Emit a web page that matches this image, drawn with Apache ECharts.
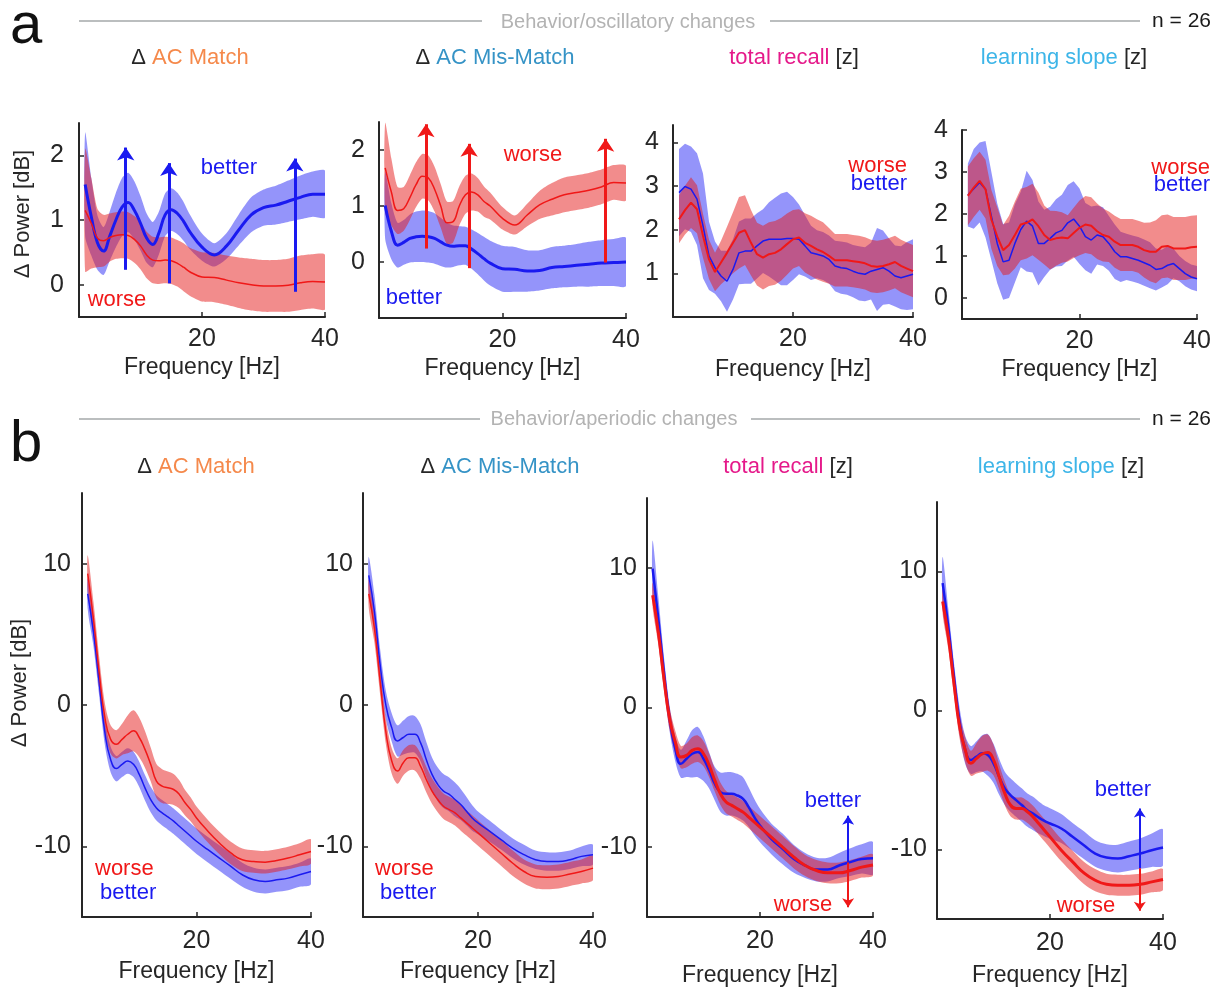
<!DOCTYPE html>
<html>
<head>
<meta charset="utf-8">
<script src="https://cdn.jsdelivr.net/npm/echarts@6/dist/echarts.min.js"></script>
<style>
  html, body { margin: 0; padding: 0; background: #ffffff; }
  #chart { width: 1222px; height: 988px; }
</style>
</head>
<body>
<div id="chart"></div>
<script>
// ---------------- data ----------------
// frequency grids (Hz)
const FREQ_A = [1,2,3,4,5,6,7,8,9,10,11,12,13,14,15,16,17,18,20,22,24,26,28,30,32,34,36,38,40];
const FREQ_Z = [1,2,3,4,5,6,7,8,9,10,11,12,13,14,15,16,17,18,19,20,21,22,23,24,25,26,27,28,29,30,31,32,33,34,35,36,37,38,39,40];
const FREQ_B = [1,2,3,4,5,6,7,8,9,10,11,12,13,14,15,16,17,18,19,20,22,24,26,28,30,32,34,36,38,40];

// a: oscillatory power change, group means and shaded error
const A1_BETTER     = [1.55,1.05,0.65,0.52,0.75,1.0,1.2,1.27,1.15,0.95,0.72,0.62,0.8,1.08,1.16,1.1,0.98,0.82,0.58,0.46,0.6,0.85,1.08,1.19,1.23,1.29,1.35,1.4,1.4];
const A1_BETTER_SEM = [0.8,0.6,0.42,0.37,0.38,0.42,0.45,0.46,0.45,0.42,0.38,0.35,0.33,0.33,0.33,0.32,0.3,0.27,0.21,0.18,0.2,0.24,0.27,0.28,0.3,0.32,0.34,0.35,0.36];
const A1_WORSE      = [1.15,0.95,0.72,0.68,0.73,0.76,0.77,0.76,0.7,0.6,0.46,0.38,0.37,0.38,0.37,0.33,0.27,0.2,0.12,0.11,0.07,0.03,0.0,-0.02,-0.02,-0.01,0.03,0.05,0.04];
const A1_WORSE_SEM  = [0.95,0.7,0.45,0.4,0.37,0.36,0.36,0.36,0.36,0.36,0.36,0.36,0.36,0.36,0.36,0.36,0.37,0.37,0.38,0.38,0.38,0.39,0.4,0.4,0.4,0.41,0.42,0.42,0.42];

const A2_WORSE      = [1.68,1.25,0.92,0.95,1.15,1.38,1.53,1.5,1.3,1.0,0.7,0.72,1.0,1.2,1.25,1.2,1.08,1.0,0.78,0.66,0.84,1.02,1.12,1.2,1.24,1.28,1.34,1.42,1.41];
const A2_WORSE_SEM  = [0.8,0.6,0.42,0.39,0.4,0.4,0.4,0.4,0.4,0.39,0.38,0.37,0.35,0.34,0.33,0.3,0.27,0.24,0.2,0.17,0.2,0.25,0.29,0.31,0.31,0.31,0.31,0.31,0.31];
const A2_BETTER     = [1.01,0.55,0.3,0.35,0.42,0.45,0.46,0.45,0.42,0.36,0.3,0.28,0.29,0.29,0.23,0.15,0.06,-0.02,-0.12,-0.13,-0.16,-0.15,-0.1,-0.08,-0.06,-0.04,-0.02,-0.01,0.0];
const A2_BETTER_SEM = [0.6,0.5,0.4,0.4,0.43,0.45,0.46,0.46,0.45,0.43,0.4,0.37,0.35,0.34,0.35,0.37,0.39,0.4,0.41,0.4,0.37,0.36,0.37,0.37,0.38,0.4,0.41,0.42,0.43];

const A3_WORSE      = [2.24,2.45,2.62,2.47,1.86,1.32,1.03,1.25,1.47,1.7,1.93,1.99,1.7,1.44,1.36,1.44,1.47,1.55,1.67,1.78,1.82,1.7,1.63,1.55,1.49,1.4,1.3,1.3,1.3,1.28,1.26,1.23,1.17,1.15,1.17,1.21,1.26,1.17,1.11,1.05];
const A3_WORSE_SEM  = [0.55,0.56,0.58,0.55,0.5,0.45,0.44,0.5,0.6,0.7,0.82,0.8,0.75,0.72,0.73,0.73,0.73,0.72,0.7,0.67,0.65,0.68,0.69,0.69,0.68,0.64,0.6,0.6,0.6,0.6,0.6,0.6,0.6,0.6,0.6,0.6,0.6,0.6,0.6,0.6];
const A3_BETTER     = [2.85,2.99,2.93,2.7,2.09,1.4,1.13,0.94,0.82,1.09,1.47,1.51,1.51,1.63,1.74,1.78,1.78,1.78,1.8,1.8,1.78,1.63,1.47,1.44,1.4,1.32,1.17,1.13,1.11,1.05,1.0,0.98,1.05,1.09,1.13,1.05,0.94,0.9,0.94,0.98];
const A3_BETTER_SEM = [1.0,0.98,0.98,1.05,1.2,0.78,0.6,0.58,0.7,0.69,0.72,0.75,0.75,0.75,0.73,0.85,0.95,1.05,1.07,0.95,0.8,0.7,0.62,0.55,0.55,0.55,0.58,0.6,0.6,0.6,0.62,0.62,0.65,0.95,0.85,0.75,0.7,0.72,0.78,0.8];

const A4_WORSE      = [2.43,2.63,2.79,2.59,1.87,1.46,1.14,1.26,1.5,1.75,1.79,1.87,1.71,1.5,1.38,1.42,1.44,1.42,1.55,1.67,1.75,1.72,1.59,1.5,1.46,1.34,1.26,1.26,1.26,1.22,1.14,1.1,1.1,1.22,1.24,1.18,1.18,1.18,1.21,1.22];
const A4_WORSE_SEM  = [0.7,0.7,0.69,0.7,0.7,0.7,0.6,0.7,0.8,0.85,0.85,0.85,0.8,0.7,0.7,0.65,0.6,0.55,0.6,0.65,0.68,0.68,0.66,0.63,0.6,0.62,0.62,0.62,0.62,0.62,0.65,0.7,0.75,0.75,0.75,0.75,0.75,0.75,0.75,0.75];
const A4_BETTER     = [2.45,2.6,2.75,2.59,1.95,1.3,0.86,0.9,1.3,1.63,1.83,1.71,1.3,1.3,1.42,1.55,1.61,1.79,1.88,1.71,1.46,1.38,1.5,1.46,1.3,1.1,0.98,0.98,0.94,0.9,0.84,0.78,0.68,0.7,0.78,0.82,0.7,0.58,0.5,0.46];
const A4_BETTER_SEM = [0.75,0.95,0.95,1.15,1.05,0.95,0.9,0.9,0.93,0.9,1.2,1.1,1.0,0.8,0.75,0.8,0.85,0.9,0.9,0.9,0.8,0.8,0.7,0.7,0.65,0.65,0.6,0.55,0.55,0.55,0.55,0.55,0.5,0.45,0.45,0.35,0.3,0.3,0.3,0.3];

// b: aperiodic power change
const B1_WORSE      = [9.29,6.1,2.3,-0.89,-2.43,-2.78,-2.43,-2.07,-1.83,-2.3,-3.14,-4.2,-5.38,-5.74,-5.86,-5.98,-6.33,-6.92,-7.4,-7.99,-8.93,-9.76,-10.47,-10.95,-11.07,-11.12,-11.0,-10.83,-10.6,-10.36];
const B1_WORSE_SEM  = [1.3,1.2,1.1,1.0,1.0,1.0,1.1,1.35,1.45,1.4,1.3,1.2,1.2,1.2,1.15,1.1,1.0,0.9,0.85,0.8,0.8,0.8,0.8,0.8,0.8,0.8,0.8,0.8,0.82,0.85];
const B1_BETTER     = [7.87,5.15,1.6,-1.95,-3.85,-4.5,-4.2,-3.96,-4.2,-4.91,-5.86,-6.69,-7.28,-7.63,-7.92,-8.22,-8.58,-8.93,-9.29,-9.64,-10.24,-10.83,-11.42,-12.01,-12.37,-12.49,-12.37,-12.25,-12.01,-11.78];
const B1_BETTER_SEM = [1.1,1.0,0.95,0.9,0.9,0.9,0.9,0.9,0.9,0.9,0.9,0.9,0.9,0.9,0.9,0.9,0.9,0.9,0.9,0.9,0.9,0.9,0.9,0.85,0.85,0.85,0.85,0.85,0.85,0.9];

const B2_BETTER     = [9.17,6.57,2.78,-0.06,-1.6,-2.54,-2.3,-2.07,-2.07,-2.66,-3.85,-4.91,-5.62,-6.09,-6.33,-6.69,-7.04,-7.51,-7.99,-8.34,-8.93,-9.53,-10.12,-10.59,-10.95,-11.07,-11.07,-10.95,-10.71,-10.59];
const B2_BETTER_SEM = [1.3,1.2,1.1,1.0,1.0,1.1,1.2,1.3,1.3,1.3,1.25,1.2,1.2,1.2,1.2,1.2,1.1,1.0,0.9,0.8,0.75,0.7,0.7,0.7,0.65,0.65,0.65,0.65,0.7,0.7];
const B2_WORSE      = [7.87,5.38,1.6,-1.95,-3.96,-4.67,-4.08,-3.73,-3.73,-4.32,-5.27,-6.09,-6.69,-7.16,-7.4,-7.63,-7.99,-8.34,-8.7,-9.05,-9.76,-10.47,-11.18,-11.78,-12.13,-12.18,-12.13,-11.95,-11.78,-11.54];
const B2_WORSE_SEM  = [1.0,1.0,0.95,0.9,0.9,0.9,0.9,0.9,0.9,0.9,0.9,0.9,0.9,0.9,0.9,0.9,0.9,0.9,0.9,0.9,0.9,0.9,0.9,0.85,0.85,0.85,0.85,0.85,0.85,0.85];

const B3_WORSE      = [8.04,5.41,2.07,-0.8,-2.47,-3.55,-3.43,-3.07,-2.95,-3.31,-4.14,-5.22,-6.18,-6.77,-7.01,-7.25,-7.49,-7.85,-8.21,-8.57,-9.28,-10.0,-10.72,-11.31,-11.67,-11.84,-11.84,-11.67,-11.43,-11.27];
const B3_WORSE_SEM  = [0.9,0.9,0.85,0.8,0.8,0.8,0.85,0.95,0.95,0.9,0.85,0.8,0.8,0.8,0.8,0.8,0.8,0.8,0.8,0.8,0.8,0.8,0.8,0.75,0.75,0.75,0.75,0.75,0.75,0.75];
const B3_BETTER     = [9.95,6.37,2.54,-0.8,-2.95,-4.03,-3.67,-3.31,-3.19,-3.67,-4.5,-5.46,-6.06,-6.18,-6.18,-6.3,-6.54,-7.13,-7.85,-8.45,-9.4,-10.12,-10.84,-11.31,-11.6,-11.6,-11.31,-11.07,-10.84,-10.79];
const B3_BETTER_SEM = [2.0,1.6,1.1,0.9,0.9,1.0,1.3,1.7,1.8,1.6,1.3,1.2,1.4,1.55,1.55,1.55,1.55,1.4,1.3,1.2,1.1,1.1,1.0,0.9,0.85,0.85,0.9,1.0,1.05,1.15];

const B4_WORSE      = [7.84,5.32,1.96,-1.16,-2.84,-3.8,-3.44,-3.13,-3.03,-3.56,-4.77,-5.96,-6.8,-7.05,-7.05,-7.29,-7.65,-8.13,-8.61,-9.09,-10.05,-10.89,-11.68,-12.21,-12.5,-12.57,-12.57,-12.5,-12.33,-12.16];
const B4_WORSE_SEM  = [0.9,0.9,0.85,0.85,0.9,0.9,1.1,1.3,1.3,1.1,0.9,0.85,0.8,0.8,0.8,0.8,0.8,0.8,0.8,0.8,0.8,0.8,0.8,0.8,0.75,0.75,0.75,0.75,0.75,0.75];
const B4_BETTER     = [9.16,6.04,2.44,-0.8,-2.84,-3.56,-3.32,-3.08,-3.2,-3.8,-4.77,-5.6,-6.08,-6.45,-6.8,-7.17,-7.41,-7.7,-7.94,-8.13,-8.49,-9.09,-9.69,-10.29,-10.58,-10.65,-10.48,-10.29,-10.05,-9.86];
const B4_BETTER_SEM = [1.9,1.3,1.0,1.0,1.0,1.0,1.1,1.3,1.5,1.4,1.3,1.2,1.2,1.2,1.2,1.2,1.2,1.15,1.1,1.1,1.05,1.0,1.0,0.95,0.95,1.0,1.05,1.1,1.2,1.3];

// arrows marking the group difference: frequency, start value, end value
const A1_ARROW_HZ = [7.6, 14.6, 35.1];
const A1_ARROW_FROM = [0.23, 0.02, -0.11];
const A1_ARROW_TO = [2.12, 1.88, 1.95];
const A2_ARROW_HZ = [7.6, 14.6, 36.7];
const A2_ARROW_FROM = [0.24, -0.11, -0.01];
const A2_ARROW_TO = [2.46, 2.11, 2.2];
const B3_ARROW_HZ = [35.6];
const B3_ARROW_FROM = [-11.1];
const B3_ARROW_UP = [-7.75];
const B3_ARROW_DOWN = [-14.3];
const B4_ARROW_HZ = [35.9];
const B4_ARROW_FROM = [-11.35];
const B4_ARROW_UP = [-7.05];
const B4_ARROW_DOWN = [-14.4];

// tick labels
const X_TICKS = [20, 40];
const Y_TICKS_A1 = [0, 1, 2];
const Y_TICKS_A2 = [0, 1, 2];
const Y_TICKS_A3 = [1, 2, 3, 4];
const Y_TICKS_A4 = [0, 1, 2, 3, 4];
const Y_TICKS_B = [-10, 0, 10];

// ---------------- styling ----------------
const FONT = '"Liberation Sans", Arial, Helvetica, sans-serif';
const INK = '#262626';
const RED = '#f01818';
const BLUE = '#1a1af0';
const RED_BAND = 'rgba(230,26,26,0.5)';
const BLUE_BAND = 'rgba(22,22,245,0.46)';
const C_MATCH = '#f5894b';
const C_MISMATCH = '#3593c6';
const C_RECALL = '#e5198a';
const C_SLOPE = '#3db5e8';

const panels = [
  { grid: [79, 123, 246, 194], y: [-0.5, 2.5], yTicks: Y_TICKS_A1, freq: FREQ_A,
    better: [A1_BETTER, A1_BETTER_SEM], worse: [A1_WORSE, A1_WORSE_SEM],
    smooth: 0.4, widths: { better: 3, worse: 1.5 }, yName: true, yNamePad: 12, xGap: 39,
    xMargin: 10, yMargin: 15,
    arrows: [{ color: BLUE, x: A1_ARROW_HZ, from: A1_ARROW_FROM, to: A1_ARROW_TO, width: 3, size: 13 }] },
  { grid: [379, 122, 247, 196], y: [-1, 2.5], yTicks: Y_TICKS_A2, freq: FREQ_A,
    better: [A2_BETTER, A2_BETTER_SEM], worse: [A2_WORSE, A2_WORSE_SEM],
    smooth: 0.4, widths: { better: 3, worse: 1.5 }, xGap: 39, xMargin: 10, yMargin: 14,
    arrows: [{ color: RED, x: A2_ARROW_HZ, from: A2_ARROW_FROM, to: A2_ARROW_TO, width: 3, size: 13 }] },
  { grid: [673, 125, 240, 192], y: [0, 4.4], yTicks: Y_TICKS_A3, freq: FREQ_Z,
    better: [A3_BETTER, A3_BETTER_SEM], worse: [A3_WORSE, A3_WORSE_SEM],
    smooth: 0, widths: { better: 1.5, worse: 2 }, xGap: 41, xMargin: 10, yMargin: 14, arrows: [] },
  { grid: [962, 130, 235, 189], y: [-0.5, 4], yTicks: Y_TICKS_A4, freq: FREQ_Z,
    better: [A4_BETTER, A4_BETTER_SEM], worse: [A4_WORSE, A4_WORSE_SEM],
    smooth: 0, widths: { better: 1.5, worse: 2 }, xGap: 39, xMargin: 10, yMargin: 14, arrows: [] },
  { grid: [82, 493, 229, 424], y: [-15, 15], yTicks: Y_TICKS_B, freq: FREQ_B,
    better: [B1_BETTER, B1_BETTER_SEM], worse: [B1_WORSE, B1_WORSE_SEM],
    smooth: 0.5, widths: { better: 1.5, worse: 1.5 }, yName: true, yNamePad: 44, xGap: 43,
    xMargin: 12, yMargin: 11, arrows: [] },
  { grid: [363, 493, 230, 424], y: [-15, 15], yTicks: Y_TICKS_B, freq: FREQ_B,
    better: [B2_BETTER, B2_BETTER_SEM], worse: [B2_WORSE, B2_WORSE_SEM],
    smooth: 0.5, widths: { better: 1.5, worse: 1.5 }, xGap: 43, xMargin: 12, yMargin: 10, arrows: [] },
  { grid: [647, 498, 226, 421], y: [-15, 15], yTicks: Y_TICKS_B, freq: FREQ_B,
    better: [B3_BETTER, B3_BETTER_SEM], worse: [B3_WORSE, B3_WORSE_SEM],
    smooth: 0.5, widths: { better: 2.5, worse: 3 }, xGap: 47, xMargin: 12, yMargin: 10,
    arrows: [
      { color: BLUE, x: B3_ARROW_HZ, from: B3_ARROW_FROM, to: B3_ARROW_UP, width: 2, size: 9 },
      { color: RED, x: B3_ARROW_HZ, from: B3_ARROW_FROM, to: B3_ARROW_DOWN, width: 2, size: 9 }] },
  { grid: [937, 502, 226, 417], y: [-15, 15], yTicks: Y_TICKS_B, freq: FREQ_B,
    better: [B4_BETTER, B4_BETTER_SEM], worse: [B4_WORSE, B4_WORSE_SEM],
    smooth: 0.5, widths: { better: 2.5, worse: 3 }, xGap: 45, xMargin: 12, yMargin: 10,
    arrows: [
      { color: BLUE, x: B4_ARROW_HZ, from: B4_ARROW_FROM, to: B4_ARROW_UP, width: 2, size: 9 },
      { color: RED, x: B4_ARROW_HZ, from: B4_ARROW_FROM, to: B4_ARROW_DOWN, width: 2, size: 9 }] }
];

// ---------------- build option ----------------
const grids = [], xAxes = [], yAxes = [], series = [];

// shaded error band: one polygon per series, upper edge then lower edge back
function band(idx, freq, mean, sem, color, smooth) {
  const data = freq.map((f, i) => [f, mean[i] - sem[i], mean[i] + sem[i]]);
  return {
    type: 'custom', xAxisIndex: idx, yAxisIndex: idx, silent: true, clip: true,
    encode: { x: 0, y: [1, 2] },
    data: data,
    renderItem: function (params, api) {
      if (params.dataIndex !== 0) return null;
      const upper = data.map(d => api.coord([d[0], d[2]]));
      const lower = data.map(d => api.coord([d[0], d[1]])).reverse();
      return {
        type: 'polygon',
        shape: { points: upper.concat(lower), smooth: smooth ? smooth * 0.6 : 0 },
        style: { fill: color }
      };
    }
  };
}

function meanLine(idx, freq, mean, color, width, smooth) {
  return {
    type: 'line', xAxisIndex: idx, yAxisIndex: idx, symbol: 'none', silent: true,
    smooth: smooth || false,
    lineStyle: { color: color, width: width },
    data: freq.map((f, i) => [f, mean[i]])
  };
}

panels.forEach((p, idx) => {
  grids.push({ left: p.grid[0], top: p.grid[1], width: p.grid[2], height: p.grid[3], containLabel: false });
  xAxes.push({
    type: 'value', gridIndex: idx, min: 0, max: 40, interval: 20,
    axisLine: { onZero: false, lineStyle: { color: INK, width: 2 } },
    axisTick: { inside: true, length: 5, customValues: X_TICKS, lineStyle: { color: INK, width: 1.5 } },
    axisLabel: { customValues: X_TICKS, color: INK, fontSize: 25, fontFamily: FONT, margin: p.xMargin },
    splitLine: { show: false },
    name: 'Frequency [Hz]', nameLocation: 'middle', nameGap: p.xGap,
    nameTextStyle: { color: INK, fontSize: 23, fontFamily: FONT }
  });
  const y = {
    type: 'value', gridIndex: idx, min: p.y[0], max: p.y[1],
    axisLine: { onZero: false, lineStyle: { color: INK, width: 2 } },
    axisTick: { inside: true, length: 5, customValues: p.yTicks, lineStyle: { color: INK, width: 1.5 } },
    axisLabel: { customValues: p.yTicks, color: INK, fontSize: 25, fontFamily: FONT, margin: p.yMargin },
    splitLine: { show: false }
  };
  if (p.yName) {
    Object.assign(y, {
      name: 'Δ Power [dB]', nameLocation: 'middle', nameGap: 45,
      nameTextStyle: { color: INK, fontSize: 22, fontFamily: FONT, padding: [0, 0, 0, p.yNamePad] }
    });
  }
  yAxes.push(y);

  series.push(band(idx, p.freq, p.better[0], p.better[1], BLUE_BAND, p.smooth));
  series.push(meanLine(idx, p.freq, p.better[0], BLUE, p.widths.better, p.smooth));
  series.push(band(idx, p.freq, p.worse[0], p.worse[1], RED_BAND, p.smooth));
  series.push(meanLine(idx, p.freq, p.worse[0], RED, p.widths.worse, p.smooth));

  if (p.arrows.length) {
    const lines = [];
    p.arrows.forEach(a => {
      a.x.forEach((hz, k) => {
        lines.push([
          { coord: [hz, a.from[k]], lineStyle: { color: a.color, width: a.width }, symbolSize: a.size },
          { coord: [hz, a.to[k]], symbolSize: a.size }
        ]);
      });
    });
    series.push({
      type: 'line', xAxisIndex: idx, yAxisIndex: idx, data: [], silent: true,
      markLine: {
        silent: true, animation: false, symbol: ['none', 'arrow'], symbolSize: p.arrows[0].size,
        label: { show: false }, lineStyle: { type: 'solid' },
        emphasis: { disabled: true },
        data: lines
      }
    });
  }
});

// ---------------- text and rules ----------------
function txt(x, y, text, color, size, align) {
  return {
    type: 'text', x: x, y: y, silent: true,
    style: { text: text, fill: color, fontSize: size, fontFamily: FONT,
             align: align || 'center', verticalAlign: 'middle' }
  };
}
function rule(x1, x2, y) {
  return { type: 'line', silent: true, shape: { x1: x1, y1: y, x2: x2, y2: y },
           style: { stroke: '#bbbebf', lineWidth: 2 } };
}
function title(x, y, parts) {
  const rich = {};
  let text = '';
  parts.forEach((pt, i) => {
    rich['p' + i] = { fill: pt[1], fontSize: 22, fontFamily: FONT };
    text += '{p' + i + '|' + pt[0] + '}';
  });
  return { type: 'text', x: x, y: y, silent: true,
           style: { text: text, rich: rich, align: 'center', verticalAlign: 'middle',
                    fontSize: 22, fontFamily: FONT } };
}

const TITLES = [
  [['Δ ', INK], ['AC Match', C_MATCH]],
  [['Δ ', INK], ['AC Mis-Match', C_MISMATCH]],
  [['total recall', C_RECALL], [' [z]', INK]],
  [['learning slope', C_SLOPE], [' [z]', INK]]
];

const graphic = [
  txt(10, 27, 'a', '#111111', 58, 'left'),
  rule(79, 482, 21), rule(770, 1140, 21),
  txt(628, 22, 'Behavior/oscillatory changes', '#b3b3b3', 20),
  txt(1211, 21, 'n = 26', '#1a1a1a', 21, 'right'),
  title(190, 58, TITLES[0]), title(495, 58, TITLES[1]),
  title(794, 58, TITLES[2]), title(1064, 58, TITLES[3]),

  txt(10, 445, 'b', '#111111', 58, 'left'),
  rule(79, 480, 419), rule(751, 1140, 419),
  txt(614, 419, 'Behavior/aperiodic changes', '#b3b3b3', 20),
  txt(1211, 419, 'n = 26', '#1a1a1a', 21, 'right'),
  title(196, 467, TITLES[0]), title(500, 467, TITLES[1]),
  title(788, 467, TITLES[2]), title(1061, 467, TITLES[3]),

  // group labels inside the panels
  txt(229, 168, 'better', BLUE, 22), txt(117, 300, 'worse', RED, 22),
  txt(533, 155, 'worse', RED, 22), txt(414, 298, 'better', BLUE, 22),
  txt(907, 166, 'worse', RED, 22, 'right'), txt(907, 184, 'better', BLUE, 22, 'right'),
  txt(1210, 168, 'worse', RED, 22, 'right'), txt(1210, 185, 'better', BLUE, 22, 'right'),
  txt(95, 869, 'worse', RED, 22, 'left'), txt(100, 893, 'better', BLUE, 22, 'left'),
  txt(375, 869, 'worse', RED, 22, 'left'), txt(380, 893, 'better', BLUE, 22, 'left'),
  txt(833, 801, 'better', BLUE, 22), txt(803, 905, 'worse', RED, 22),
  txt(1123, 790, 'better', BLUE, 22), txt(1086, 906, 'worse', RED, 22)
];

const chart = echarts.init(document.getElementById('chart'), null, { renderer: 'canvas' });
chart.setOption({
  backgroundColor: '#ffffff',
  animation: false,
  grid: grids,
  xAxis: xAxes,
  yAxis: yAxes,
  series: series,
  graphic: graphic
});
</script>
</body>
</html>
